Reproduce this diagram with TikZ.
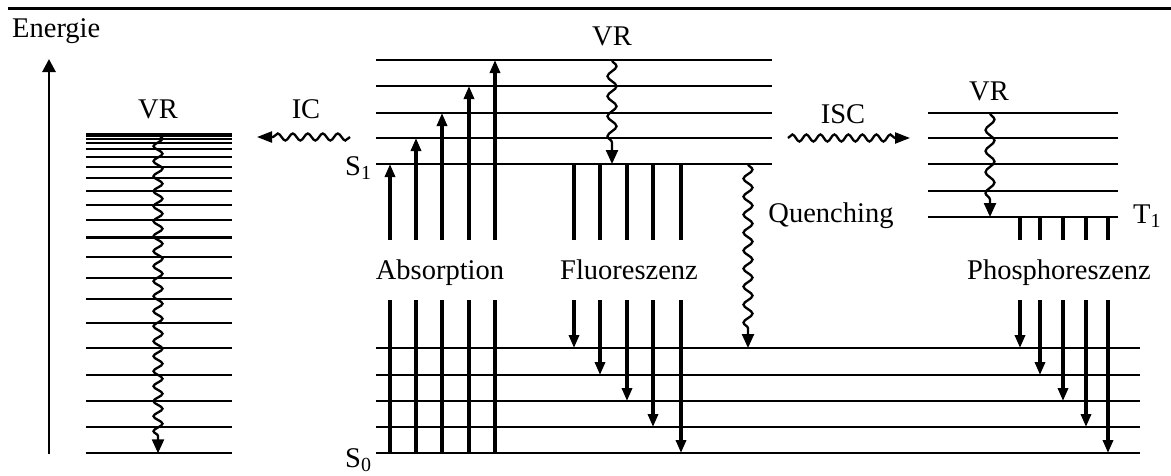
\documentclass[tikz,border=0pt]{standalone}
\usepackage{fontspec}
\setmainfont{Liberation Serif}
\usetikzlibrary{arrows.meta,decorations.pathmorphing}
\begin{document}
\begin{tikzpicture}[x=1pt,y=-1pt,
  lvl/.style={line width=2.3pt},
  trans/.style={line width=3.5pt},
  tip/.style={-{Triangle[length=13pt,width=10pt]}},
  wav/.style={line width=2.3pt, decorate,
    decoration={snake, amplitude=4.5pt, segment length=#1, post length=13pt},
    -{Triangle[length=14pt,width=12pt]}},
  hwav/.style={line width=2.3pt, decorate,
    decoration={snake, amplitude=3.5pt, segment length=#1, post length=13pt},
    -{Triangle[length=15pt,width=11pt]}},
  lbl/.style={font=\fontsize{28.5}{33}\selectfont, inner sep=0pt}]
\useasboundingbox (0,0) rectangle (1171,475);
% top rule
\draw[line width=3pt] (8,8) -- (1171,8);
% energy axis
\node[lbl, anchor=base west] (energie) at (12,37) {Energie};
\coordinate (eBot) at (49,454);
\coordinate (eTop) at (49,59);
\draw[line width=2.8pt, -{Triangle[length=13pt,width=13pt]}] (eBot) -- (eTop);
% left block (vibrational levels)
\foreach \y in {134,136,139.3,143.3,149.3,157.3,166.7,178.3,190.7,205,220,237.5,256.7,277.7,299.3,323.3,348.3,375,401,427.3,453.3}
  \draw[lvl] (86,\y) -- (232,\y);
\node[lbl, anchor=base] (vrL) at (158,118) {VR};
\coordinate (vrLa) at (158,134);
\coordinate (vrLb) at (158,453.3);
\draw[wav=15pt] (vrLa) -- (vrLb);
% IC
\node[lbl, anchor=base] (ic) at (306,118) {IC};
\coordinate (icA) at (350,137);
\coordinate (icB) at (257,137);
\draw[hwav=15pt] (icA) -- (icB);
% S1 levels
\foreach \y in {60,86,113,138,164}
  \draw[lvl] (376,\y) -- (772,\y);
% S0 levels
\foreach \y in {348,375,401,427,453}
  \draw[lvl] (376,\y) -- (1140,\y);
\node[lbl, anchor=base west] (s1) at (345,175) {S\textsubscript{1}};
\node[lbl, anchor=base west] (s0) at (345,467) {S\textsubscript{0}};
% VR middle
\node[lbl, anchor=base] (vrM) at (612,45) {VR};
\coordinate (vrMa) at (612,60);
\coordinate (vrMb) at (612,164);
\draw[wav=20pt] (vrMa) -- (vrMb);
% Absorption
\node[lbl, anchor=base] (abs) at (440,279) {Absorption};
\foreach \x/\y in {390/164,416/138,442/113,469/86,495/60} {
  \draw[trans] (\x,453) -- (\x,300);
  \draw[trans,tip] (\x,240) -- (\x,\y);
}
% Fluorescence
\node[lbl, anchor=base] (fl) at (629,279) {Fluoreszenz};
\foreach \x/\y in {574/348,600/375,627/401,653/427,681/453} {
  \draw[trans] (\x,164) -- (\x,240);
  \draw[trans,tip] (\x,300) -- (\x,\y);
}
% Quenching
\node[lbl, anchor=base] (qu) at (831,222) {Quenching};
\coordinate (quA) at (748,164);
\coordinate (quB) at (748,348);
\draw[wav=18pt] (quA) -- (quB);
% ISC
\node[lbl, anchor=base] (isc) at (843,123) {ISC};
\coordinate (iscA) at (788,138);
\coordinate (iscB) at (910,138);
\draw[hwav=14pt] (iscA) -- (iscB);
% T1 levels
\foreach \y in {113,138,164,191,217}
  \draw[lvl] (928,\y) -- (1118,\y);
\node[lbl, anchor=base west] (t1) at (1133,223) {T\textsubscript{1}};
\node[lbl, anchor=base] (vrR) at (989,100) {VR};
\coordinate (vrRa) at (990,113);
\coordinate (vrRb) at (990,217);
\draw[wav=21pt] (vrRa) -- (vrRb);
% Phosphorescence
\node[lbl, anchor=base] (ph) at (1059,279) {Phosphoreszenz};
\foreach \x/\y in {1020/348,1040/375,1063/401,1086/427,1108/453} {
  \draw[trans] (\x,217) -- (\x,240);
  \draw[trans,tip] (\x,300) -- (\x,\y);
}
\end{tikzpicture}
\end{document}
